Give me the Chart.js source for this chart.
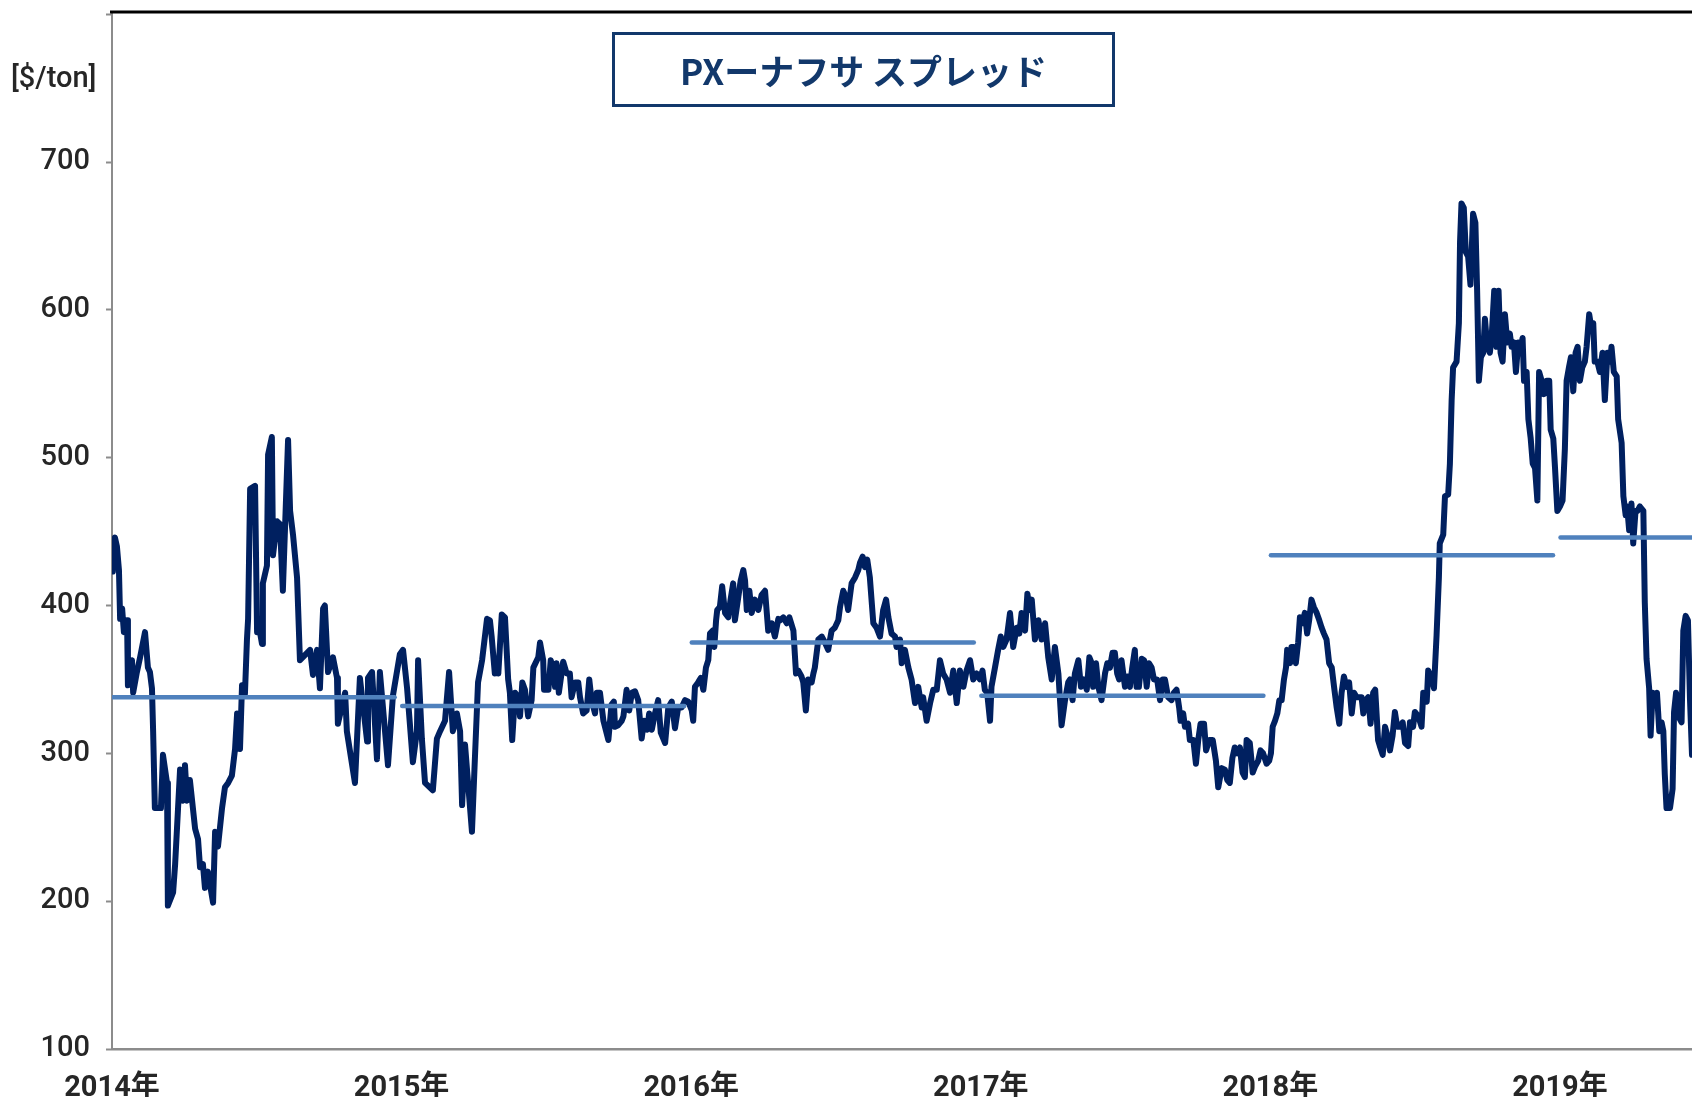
<!DOCTYPE html>
<html lang="ja">
<head>
<meta charset="utf-8">
<title>PX-ナフサ スプレッド</title>
<script src="https://cdn.jsdelivr.net/npm/chart.js@4.4.1/dist/chart.umd.min.js"></script>
<style>
    html, body { margin: 0; padding: 0; background: #fff; }
    #wrap { position: relative; width: 1692px; height: 1097px; overflow: hidden; }
    #unit {
        position: absolute; left: 11px; top: 60px;
        font: 500 29px Roboto, "Noto Sans CJK JP", sans-serif; color: #262626;
    }
    #title {
        position: absolute; left: 612px; top: 32px; width: 503px; height: 75px;
        box-sizing: border-box; border: 3px solid #12386b;
        display: flex; align-items: center; justify-content: center;
        font: bold 35px "Noto Sans CJK JP", sans-serif; color: #12386b;
    }
</style>
</head>
<body>
<div id="wrap">
    <canvas id="spreadChart"></canvas>
    <div id="unit">[$/ton]</div>
    <div id="title">PXーナフサ スプレッド</div>
</div>
<script>
// position of each reading, in years after the start of 2014
const yearOffsets = [
    0.003,0.010,0.017,0.024,0.028,0.035,0.041,0.052,0.055,0.069,
    0.073,0.086,0.097,0.114,0.124,0.131,0.138,0.142,0.148,0.169,
    0.176,0.190,0.193,0.211,0.218,0.235,0.245,0.252,0.259,0.269,
    0.287,0.297,0.304,0.314,0.321,0.331,0.349,0.356,0.366,0.380,
    0.390,0.401,0.414,0.425,0.432,0.442,0.449,0.459,0.466,0.470,
    0.477,0.494,0.501,0.504,0.518,0.521,0.535,0.539,0.552,0.556,
    0.570,0.580,0.590,0.608,0.615,0.625,0.639,0.649,0.684,0.694,
    0.708,0.718,0.729,0.735,0.746,0.763,0.777,0.780,0.805,0.811,
    0.839,0.856,0.881,0.884,0.898,0.915,0.925,0.953,0.970,0.994,
    1.005,1.019,1.039,1.053,1.057,1.070,1.081,1.108,1.122,1.133,
    1.150,1.164,1.177,1.191,1.202,1.209,1.219,1.243,1.253,1.264,
    1.278,1.295,
    1.305,1.311,1.322,1.328,1.334,1.346,1.357,1.368,1.374,1.382,
    1.392,1.403,1.409,1.417,1.426,1.437,1.449,1.455,1.472,1.478,
    1.489,1.492,1.507,1.515,1.524,1.530,1.535,1.543,1.558,1.570,
    1.581,1.587,1.599,1.610,1.616,1.627,1.639,1.648,1.656,1.668,
    1.674,1.685,1.697,1.714,1.725,1.733,1.737,1.748,1.760,1.766,
    1.777,1.786,1.795,1.806,1.817,1.829,1.837,1.848,1.855,1.864,
    1.875,1.886,1.895,1.910,1.921,1.933,1.944,1.955,1.967,1.979,
    1.990,2.002,2.007,2.013,2.024,2.033,2.042,2.051,2.059,2.065,
    2.074,2.080,2.086,2.090,2.099,2.107,2.117,2.128,2.136,2.145,
    2.151,2.163,2.171,2.180,2.186,2.192,2.201,2.209,2.220,2.232,
    2.243,2.255,2.266,2.278,2.289,2.301,
    2.307,2.318,2.330,2.339,2.353,2.362,2.370,2.381,2.387,2.396,
    2.404,2.416,2.422,2.427,2.439,2.451,2.462,2.473,2.485,2.496,
    2.508,2.514,2.525,2.534,2.542,2.554,2.566,2.577,2.583,2.592,
    2.600,2.608,2.617,2.629,2.640,2.652,2.663,2.673,2.681,2.692,
    2.704,2.709,2.721,2.727,2.738,2.750,2.761,2.773,2.784,2.796,
    2.801,2.813,2.825,2.836,2.848,2.859,2.870,2.882,2.894,2.905,
    2.917,2.928,2.940,2.951,2.963,2.974,2.986,2.997,3.006,3.014,
    3.022,3.032,3.037,3.049,3.060,3.069,3.078,3.089,3.101,3.112,
    3.124,3.133,3.141,3.153,3.161,3.170,3.176,3.187,3.199,3.210,
    3.222,3.233,3.245,3.256,3.268,3.279,3.291,3.302,
    3.308,3.317,3.325,3.337,3.346,3.356,3.366,3.375,3.383,3.388,
    3.398,3.406,3.417,3.429,3.437,3.446,3.455,3.463,3.471,3.478,
    3.486,3.498,3.506,3.515,3.523,3.532,3.538,3.546,3.556,3.564,
    3.573,3.581,3.590,3.598,3.609,3.619,3.628,3.636,3.647,3.659,
    3.667,3.676,3.685,3.690,3.699,3.705,3.716,3.722,3.734,3.743,
    3.751,3.759,3.771,3.778,3.789,3.801,3.812,3.820,3.832,3.843,
    3.851,3.860,3.869,3.877,3.886,3.895,3.904,3.912,3.918,3.929,
    3.939,3.947,3.958,3.966,3.975,3.987,3.996,4.002,4.008,4.016,
    4.024,4.031,4.039,4.047,4.054,4.058,4.068,4.073,4.081,4.088,
    4.096,4.102,4.110,4.119,4.127,4.134,4.142,4.150,4.160,4.169,
    4.177,4.185,4.194,4.203,4.212,4.220,4.229,4.238,4.246,4.254,
    4.263,4.272,4.281,4.289,4.298,4.307,4.315,4.321,4.330,4.338,
    4.346,4.355,4.362,4.372,
    4.378,4.388,4.396,4.404,4.413,4.422,4.430,4.438,4.448,4.457,
    4.465,4.476,4.482,4.493,4.499,4.511,4.522,4.528,4.540,4.545,
    4.557,4.565,4.574,4.582,4.585,4.597,4.603,4.614,4.620,4.626,
    4.631,4.643,4.651,4.655,4.660,4.668,4.675,4.683,4.691,4.700,
    4.708,4.714,4.720,4.727,4.735,4.741,4.749,4.758,4.764,4.773,
    4.781,4.788,4.795,4.802,4.810,4.818,4.827,4.833,4.841,4.848,
    4.856,4.862,4.871,4.876,4.885,4.891,4.899,4.906,4.914,4.922,
    4.928,4.937,4.945,4.954,4.963,4.968,4.977,4.983,4.991,5.000,
    5.009,5.017,5.023,5.031,5.038,5.046,5.054,5.061,5.069,5.077,
    5.086,5.092,5.101,5.109,5.115,5.120,5.129,5.138,5.147,5.155,
    5.164,5.173,5.178,5.186,5.196,5.201,5.213,5.219,5.227,5.232,
    5.239,5.247,5.253,5.261,5.268,5.276,5.288,5.293,5.299,5.308,
    5.313,5.320,5.327,5.335,5.343,5.351,5.357,5.362,5.368,5.380,
    5.389,5.394,5.401,5.409,5.420,5.426,5.434,5.442,5.449,5.456
];

// PX - naphtha spread [$/ton]
const spread = [
    423,446,440,424,391,398,382,390,346,363,
    341,355,365,382,358,355,344,315,263,263,
    299,280,197,206,225,289,268,292,268,282,
    249,242,223,225,209,220,199,247,237,263,
    277,280,285,303,327,303,346,340,377,391,
    479,481,382,390,374,415,427,502,514,434,
    457,455,410,512,464,448,419,363,370,353,
    370,344,398,400,355,365,351,320,341,315,
    280,351,308,351,355,296,355,292,339,367,
    370,344,294,315,363,310,280,275,310,315,
    322,355,315,327,315,265,306,247,296,348,
    363,391,
    390,379,354,363,354,394,392,350,341,309,
    341,338,325,348,343,325,336,358,365,375,
    363,343,343,363,356,345,361,341,362,354,
    354,338,348,348,338,327,329,350,336,327,
    341,341,322,309,333,335,318,319,322,325,
    343,329,341,342,336,310,322,316,327,316,
    327,336,314,307,331,335,317,331,331,336,
    335,329,322,345,348,351,343,358,363,381,
    383,372,390,397,399,413,395,392,404,415,
    390,406,417,424,417,397,410,395,404,397,
    407,410,383,388,379,391,
    390,392,388,392,383,354,356,352,348,329,
    350,348,354,358,377,379,375,370,383,385,
    390,399,410,406,397,415,419,424,429,433,
    426,431,419,388,385,379,397,404,392,381,
    379,372,377,361,370,358,350,334,345,331,
    338,322,334,343,343,363,354,350,341,356,
    334,356,345,356,363,350,354,350,356,343,
    341,322,345,358,370,379,372,377,395,372,
    385,381,395,383,408,397,404,377,390,377,
    388,365,350,372,354,319,336,348,
    350,336,354,363,345,350,343,365,361,345,
    361,345,336,354,361,358,368,368,354,350,
    363,345,352,345,358,370,345,345,364,363,
    345,361,358,350,350,336,350,350,338,336,
    341,343,331,322,327,318,320,309,309,293,
    309,320,320,302,309,309,295,277,290,289,
    282,280,297,304,300,304,287,284,309,307,
    287,291,295,302,300,293,295,300,318,322,
    327,336,336,350,358,370,361,372,372,361,
    375,392,388,395,381,390,404,399,395,390,
    385,381,377,361,358,345,331,320,341,352,
    345,348,327,341,338,338,338,327,336,338,
    320,341,343,309,
    305,299,318,312,302,312,328,318,318,321,
    307,305,321,318,328,325,318,341,335,356,
    351,344,380,419,442,448,474,475,496,539,
    561,565,591,646,672,669,639,636,617,665,
    659,613,552,568,571,594,575,571,581,613,
    575,613,571,565,597,578,584,575,578,558,
    578,571,581,552,558,526,513,496,493,471,
    558,552,543,552,552,519,513,493,464,467,
    471,506,552,561,568,545,571,575,552,561,
    565,575,597,587,591,565,565,558,571,539,
    571,565,575,558,555,526,510,474,461,467,
    451,469,442,464,464,467,464,402,364,344,
    312,341,337,341,315,321,315,286,263,263,
    276,328,341,325,321,383,393,390,337,299
];

// yearly averages drawn as flat segments
const avgYears = [2014, 2015, 2016, 2017, 2018, 2019];
const avgValues = [338, 332, 375, 339, 434, 446];

const yearTicks = [2014, 2015, 2016, 2017, 2018, 2019];
const valueTicks = [100, 200, 300, 400, 500, 600, 700, 800];
const xMax = 2019.456;

const numFont = 'Roboto, "Noto Sans CJK JP", sans-serif';
Chart.defaults.font.family = numFont;
Chart.defaults.color = '#262626';

const spreadPoints = yearOffsets.map((t, i) => ({ x: 2014 + t, y: spread[i] }));

const avgSets = avgYears.map((yr, i) => ({
    label: yr + '年平均',
    data: [
        { x: yr + 0.002, y: avgValues[i] },
        { x: Math.min(yr + 0.976, xMax + 0.05), y: avgValues[i] }
    ],
    borderColor: '#4f81bd',
    borderWidth: 4.5,
    borderCapStyle: 'round',
    pointRadius: 0,
    order: 1
}));

// black rule along the top of the plot
const topRule = {
    id: 'topRule',
    afterDraw(chart) {
        const { ctx, chartArea } = chart;
        ctx.save();
        ctx.strokeStyle = '#000';
        ctx.lineWidth = 3;
        ctx.beginPath();
        ctx.moveTo(chartArea.left - 2, chartArea.top);
        ctx.lineTo(chartArea.right, chartArea.top);
        ctx.stroke();
        ctx.restore();
    }
};

new Chart(document.getElementById('spreadChart'), {
    type: 'line',
    data: {
        datasets: [{
            label: 'PX-ナフサ スプレッド',
            data: spreadPoints,
            borderColor: '#002060',
            borderWidth: 6,
            borderJoinStyle: 'round',
            borderCapStyle: 'round',
            tension: 0,
            pointRadius: 0,
            order: 2
        }].concat(avgSets)
    },
    options: {
        responsive: true,
        maintainAspectRatio: false,
        animation: false,
        layout: { padding: { top: 12, right: 0, left: 0, bottom: 0 } },
        plugins: {
            legend: { display: false },
            tooltip: { enabled: false }
        },
        scales: {
            x: {
                type: 'linear',
                min: 2014,
                max: xMax,
                border: { color: '#8c8c8c', width: 2.5 },
                grid: { display: false },
                afterFit: s => { s.height = 48; },
                afterBuildTicks: s => { s.ticks = yearTicks.map(v => ({ value: v })); },
                ticks: {
                    autoSkip: false,
                    maxRotation: 0,
                    padding: 14,
                    color: '#262626',
                    font: { size: 29, weight: 'bold' },
                    callback: v => v + '年'
                }
            },
            y: {
                min: 100,
                max: 801.5,
                border: { color: '#8c8c8c', width: 2 },
                grid: {
                    drawOnChartArea: false,
                    tickLength: 6,
                    tickColor: '#8c8c8c',
                    tickWidth: 2
                },
                afterBuildTicks: s => { s.ticks = valueTicks.map(v => ({ value: v })); },
                afterFit: s => {
                    s.width = 112;
                    s.paddingTop = 0;
                    s.paddingBottom = 0;
                },
                ticks: {
                    autoSkip: false,
                    padding: 16,
                    color: '#262626',
                    font: { size: 29, weight: 500 },
                    callback: v => (v <= 700 ? String(v) : '')
                }
            }
        }
    },
    plugins: [topRule]
});
</script>
</body>
</html>
